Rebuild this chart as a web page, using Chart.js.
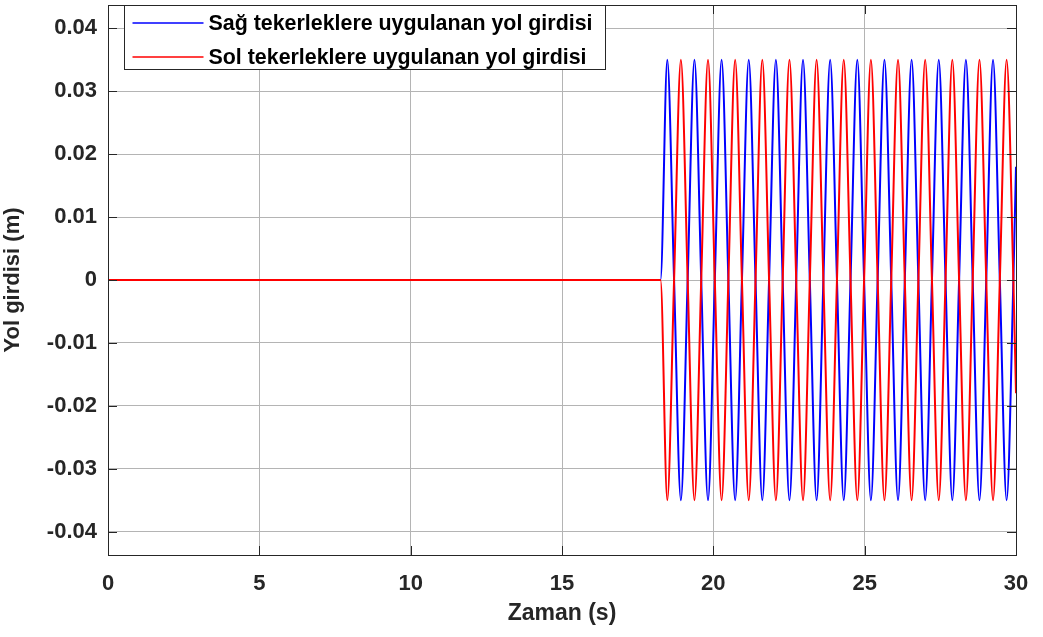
<!DOCTYPE html>
<html>
<head>
<meta charset="utf-8">
<script src="https://cdn.jsdelivr.net/npm/chart.js@4/dist/chart.umd.min.js"></script>
<style>
  html, body { margin: 0; padding: 0; background: #ffffff; }
  #wrap { width: 1043px; height: 637px; position: relative; }
</style>
</head>
<body>
<div id="wrap"><canvas id="c" width="1043" height="637"></canvas></div>
<script>
// ---- data ----
const timeKnots = [
  0,
  18.255, 18.479, 18.703, 18.928, 19.152, 19.376, 19.600, 19.824,
  20.049, 20.273, 20.497, 20.721, 20.945, 21.170, 21.394, 21.618,
  21.842, 22.067, 22.291, 22.515, 22.739, 22.963, 23.188, 23.412,
  23.636, 23.860, 24.085, 24.309, 24.533, 24.757, 24.981, 25.206,
  25.429, 25.654, 25.878, 26.102, 26.326, 26.551, 26.775, 26.999,
  27.223, 27.448, 27.672, 27.896, 28.120, 28.345, 28.569, 28.793,
  29.017, 29.241, 29.466, 29.690, 29.913,
  30
];
const rightWheelInput = [
  0,
  0, 0.035, 0, -0.035, 0, 0.035, 0, -0.035,
  0, 0.035, 0, -0.035, 0, 0.035, 0, -0.035,
  0, 0.035, 0, -0.035, 0, 0.035, 0, -0.035,
  0, 0.035, 0, -0.035, 0, 0.035, 0, -0.035,
  0, 0.035, 0, -0.035, 0, 0.035, 0, -0.035,
  0, 0.035, 0, -0.035, 0, 0.035, 0, -0.035,
  0, 0.035, 0, -0.035, 0,
  0.018
];
const leftWheelInput = [
  0,
  0, -0.035, 0, 0.035, 0, -0.035, 0, 0.035,
  0, -0.035, 0, 0.035, 0, -0.035, 0, 0.035,
  0, -0.035, 0, 0.035, 0, -0.035, 0, 0.035,
  0, -0.035, 0, 0.035, 0, -0.035, 0, 0.035,
  0, -0.035, 0, 0.035, 0, -0.035, 0, 0.035,
  0, -0.035, 0, 0.035, 0, -0.035, 0, 0.035,
  0, -0.035, 0, 0.035, 0,
  -0.018
];
const xTickValues = [0, 5, 10, 15, 20, 25, 30];
const yTickValues = [-0.04, -0.03, -0.02, -0.01, 0, 0.01, 0.02, 0.03, 0.04];
const seriesLabels = ['Sağ tekerleklere uygulanan yol girdisi', 'Sol tekerleklere uygulanan yol girdisi'];
const xTitle = 'Zaman (s)';
const yTitle = 'Yol girdisi (m)';

// ---- styling ----
const FONT = "'Liberation Sans', Arial, Helvetica, sans-serif";
const AX = '#262626';
const GRID = '#b4b4b4';

function toPoints(xs, ys) { return xs.map((x, i) => ({ x: x, y: ys[i] })); }

function fmtY(v) {
  if (Math.abs(v) < 1e-12) return '0';
  return v.toFixed(2);
}

const framePlugin = {
  id: 'frame',
  afterDatasetsDraw(chart) {
    const ctx = chart.ctx;
    const a = chart.chartArea;
    const xs = chart.scales.x, ys = chart.scales.y;
    const tl = 9;
    ctx.save();
    ctx.strokeStyle = AX;
    ctx.lineWidth = 1;
    ctx.beginPath();
    xTickValues.forEach(v => {
      const px = Math.round(xs.getPixelForValue(v)) + 0.5;
      ctx.moveTo(px, a.bottom); ctx.lineTo(px, a.bottom - tl);
      ctx.moveTo(px, a.top); ctx.lineTo(px, a.top + tl);
    });
    yTickValues.forEach(v => {
      const py = Math.round(ys.getPixelForValue(v)) + 0.5;
      ctx.moveTo(a.left, py); ctx.lineTo(a.left + tl, py);
      ctx.moveTo(a.right, py); ctx.lineTo(a.right - tl, py);
    });
    ctx.stroke();
    ctx.strokeRect(Math.round(a.left) + 0.5, Math.round(a.top) + 0.5,
                   Math.round(a.right - a.left), Math.round(a.bottom - a.top));
    ctx.restore();
  },
  afterDraw(chart) {
    const ctx = chart.ctx;
    const a = chart.chartArea;
    const fontSize = 21.4;
    ctx.save();
    ctx.font = 'bold ' + fontSize + 'px ' + FONT;
    const textW = Math.max.apply(null, seriesLabels.map(s => ctx.measureText(s).width));
    const bx = Math.round(a.left + 16) + 0.5;
    const by = Math.round(a.top) + 0.5;
    const lineStart = 8, lineLen = 71, textGap = 5;
    const bw = Math.round(lineStart + lineLen + textGap + textW + 13);
    const rowH = 34;
    const bh = 64;
    ctx.fillStyle = '#ffffff';
    ctx.fillRect(bx, by, bw, bh);
    ctx.strokeStyle = AX;
    ctx.lineWidth = 1;
    ctx.strokeRect(bx, by, bw, bh);
    chart.data.datasets.forEach((ds, i) => {
      const cy = by + 17.5 + i * rowH;
      ctx.strokeStyle = ds.borderColor;
      ctx.lineWidth = 1.5;
      ctx.beginPath();
      ctx.moveTo(bx + lineStart, cy);
      ctx.lineTo(bx + lineStart + lineLen, cy);
      ctx.stroke();
      ctx.fillStyle = '#000000';
      ctx.textBaseline = 'middle';
      ctx.textAlign = 'left';
      ctx.fillText(seriesLabels[i], bx + lineStart + lineLen + textGap, cy + 1);
    });
    ctx.restore();
  }
};

new Chart(document.getElementById('c'), {
  type: 'line',
  data: {
    datasets: [
      {
        label: seriesLabels[0],
        data: toPoints(timeKnots, rightWheelInput),
        borderColor: '#0000ff',
        borderWidth: 2,
        pointRadius: 0,
        cubicInterpolationMode: 'monotone',
        order: 1
      },
      {
        label: seriesLabels[1],
        data: toPoints(timeKnots, leftWheelInput),
        borderColor: '#ff0000',
        borderWidth: 2,
        pointRadius: 0,
        cubicInterpolationMode: 'monotone',
        order: 0
      }
    ]
  },
  options: {
    responsive: false,
    animation: false,
    layout: { padding: { left: 0, right: 27, top: 5, bottom: 0 } },
    plugins: { legend: { display: false }, tooltip: { enabled: false } },
    scales: {
      x: {
        type: 'linear',
        min: 0, max: 30,
        afterBuildTicks(s) { s.ticks = xTickValues.map(v => ({ value: v })); },
        afterFit(s) { s.height = 82; s.paddingLeft = 0; s.paddingRight = 0; },
        grid: { color: GRID, lineWidth: 1, drawTicks: false },
        border: { display: false },
        ticks: {
          color: AX, padding: 16, maxRotation: 0,
          font: { family: FONT, size: 22, weight: 'bold' },
          callback: v => String(v)
        },
        title: {
          display: true, text: xTitle, color: AX,
          font: { family: FONT, size: 23, weight: 'bold' },
          padding: { top: 0, bottom: 10 }
        }
      },
      y: {
        type: 'linear',
        min: -0.0437, max: 0.0437,
        afterBuildTicks(s) { s.ticks = yTickValues.map(v => ({ value: v })); },
        afterFit(s) { s.width = 108; s.paddingTop = 0; s.paddingBottom = 0; },
        grid: { color: GRID, lineWidth: 1, drawTicks: false },
        border: { display: false },
        ticks: {
          color: AX, padding: 11,
          font: { family: FONT, size: 22, weight: 'bold' },
          callback: v => fmtY(v)
        },
        title: {
          display: true, text: yTitle, color: AX,
          font: { family: FONT, size: 22, weight: 'bold' },
          padding: { top: 0, bottom: 0 }
        }
      }
    }
  },
  plugins: [framePlugin]
});
</script>
</body>
</html>
